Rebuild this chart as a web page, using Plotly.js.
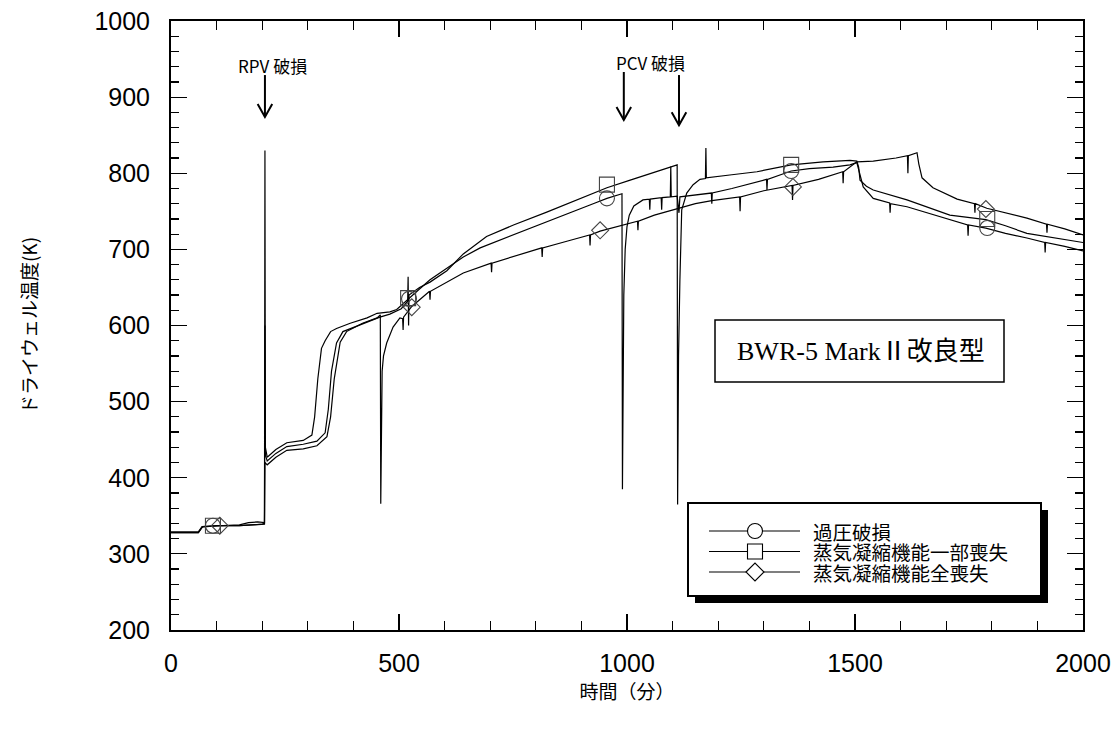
<!DOCTYPE html>
<html>
<head>
<meta charset="utf-8">
<script src="https://cdn.plot.ly/plotly-3.0.1.min.js"></script>
<style>
  html, body { margin: 0; padding: 0; background: #fff; }
  #chart { width: 1117px; height: 736px; }
</style>
</head>
<body>
<div id="chart"></div>
<script>
// Drywell temperature (K) against time (min), three accident sequences.

// 過圧破損
const timeOver = [0, 60, 68, 100, 150, 180, 200, 205, 206, 207, 211, 230, 254, 290, 309, 315, 322, 330, 338, 350, 363, 393, 430, 452, 480, 495, 520, 545, 568, 605, 641, 678, 720, 751, 790, 824, 860, 897, 930, 956, 989, 990, 991, 993, 996, 1000, 1005, 1015, 1035, 1049, 1050, 1051, 1075, 1076, 1077, 1095, 1096, 1097, 1110, 1114, 1116, 1150, 1182, 1185, 1186, 1187, 1230, 1285, 1306, 1307, 1308, 1360, 1400, 1452, 1489, 1504, 1510, 1518, 1540, 1576, 1577, 1578, 1614, 1660, 1708, 1747, 1748, 1749, 1787, 1830, 1877, 1916, 1917, 1918, 1960, 2000];
const tempOver = [328, 328, 335, 337, 337, 338, 339, 340, 830, 440, 427, 437, 446, 449, 456, 480, 530, 570, 580, 592, 596, 603, 610, 616, 618, 621, 635, 648, 660, 675, 690, 702, 712, 719, 728, 736, 745, 754, 761, 767, 773, 385, 560, 640, 700, 730, 745, 757, 765, 766, 752, 766, 768, 752, 768, 769, 809, 769, 770, 748, 769, 771, 773, 774, 760, 774, 780, 788, 792, 778, 792, 803, 806, 808, 811, 814, 800, 782, 767, 761, 748, 760, 756, 748, 739, 732, 718, 732, 728, 721, 715, 709, 696, 709, 704, 698];

// 蒸気凝縮機能一部喪失
const timePartial = [0, 60, 68, 100, 150, 170, 190, 205, 206, 207, 211, 230, 254, 290, 320, 338, 345, 352, 363, 377, 415, 458, 480, 505, 519, 520, 521, 522, 545, 568, 605, 641, 692, 751, 824, 897, 941, 956, 1007, 1050, 1099, 1110, 1111, 1113, 1116, 1120, 1131, 1145, 1160, 1172, 1173, 1174, 1230, 1285, 1360, 1430, 1489, 1504, 1508, 1511, 1525, 1540, 1614, 1660, 1708, 1787, 1830, 1877, 1940, 2000];
const tempPartial = [329, 329, 336, 337, 338, 341, 342, 341, 600, 430, 422, 432, 441, 444, 448, 459, 490, 540, 577, 592, 601, 611, 615, 622, 632, 664, 600, 640, 650, 657, 672, 694, 717, 732, 749, 767, 777, 781, 791, 799, 808, 811, 365, 560, 660, 752, 774, 785, 792, 793, 833, 794, 798, 802, 811, 815, 817, 816, 808, 791, 783, 778, 765, 755, 745, 739, 731, 721, 715, 709];

// 蒸気凝縮機能全喪失
const timeTotal = [0, 60, 70, 107, 150, 190, 205, 206, 211, 230, 254, 290, 320, 342, 350, 358, 371, 385, 420, 452, 459, 460, 462, 463, 466, 473, 487, 502, 508, 509, 510, 528, 567, 568, 569, 641, 702, 703, 704, 760, 813, 814, 815, 870, 918, 919, 920, 941, 1007, 1023, 1024, 1025, 1060, 1116, 1150, 1186, 1247, 1248, 1249, 1300, 1351, 1362, 1363, 1364, 1420, 1452, 1473, 1474, 1475, 1504, 1540, 1590, 1615, 1616, 1617, 1636, 1640, 1647, 1671, 1724, 1762, 1763, 1764, 1789, 1830, 1877, 1920, 1921, 1922, 1960, 2000];
const tempTotal = [328, 328, 336, 337, 337, 339, 339, 420, 417, 427, 436, 438, 442, 454, 480, 530, 578, 592, 603, 610, 614, 366, 460, 540, 560, 577, 598, 610, 609, 594, 611, 625, 645, 634, 645, 669, 682, 670, 682, 692, 702, 690, 702, 711, 719, 705, 719, 724, 735, 737, 725, 737, 745, 754, 760, 764, 769, 750, 769, 777, 783, 784, 765, 784, 792, 798, 802, 787, 802, 815, 816, 820, 823, 800, 823, 827, 812, 794, 781, 766, 760, 748, 760, 754, 748, 741, 733, 722, 733, 727, 719];

// Symbol positions along each curve
const markTimeOver = [92, 522, 956, 1360, 1790];
const markTempOver = [337, 635, 767, 803, 728];
const markTimePartial = [92, 520, 956, 1360, 1790];
const markTempPartial = [337, 636, 785, 811, 740];
const markTimeTotal = [107, 528, 941, 1364, 1787];
const markTempTotal = [337, 624, 725, 782, 753];

const seriesNames = ['過圧破損', '蒸気凝縮機能一部喪失', '蒸気凝縮機能全喪失'];
const xTitle = '時間（分）';
const yTitle = 'ドライウェル温度(K)';
const plantLabel = 'BWR-5 MarkⅡ改良型';
const rpvLabel = 'RPV 破損';
const pcvLabel = 'PCV 破損';
const rpvTime = 206;
const pcvTimes = [993, 1114];

const lineStyle = { color: '#000', width: 1.2 };
const markerLine = { color: '#444', width: 1.1 };

const traces = [
  { x: timeOver, y: tempOver, mode: 'lines', line: lineStyle, showlegend: false, hoverinfo: 'skip' },
  { x: timePartial, y: tempPartial, mode: 'lines', line: lineStyle, showlegend: false, hoverinfo: 'skip' },
  { x: timeTotal, y: tempTotal, mode: 'lines', line: lineStyle, showlegend: false, hoverinfo: 'skip' },
  { x: markTimeOver, y: markTempOver, mode: 'markers', showlegend: false,
    marker: { symbol: 'circle-open', size: 15, line: markerLine, color: '#444' } },
  { x: markTimePartial, y: markTempPartial, mode: 'markers', showlegend: false,
    marker: { symbol: 'square-open', size: 15, line: markerLine, color: '#444' } },
  { x: markTimeTotal, y: markTempTotal, mode: 'markers', showlegend: false,
    marker: { symbol: 'diamond-open', size: 13, line: markerLine, color: '#444' } }
];

// plot area in pixels
const L = 171, R = 1083, T = 21, B = 630;
const W = 1117, H = 736;
const px = v => (v - L) / (R - L);
const py = v => (B - v) / (B - T);

const shapes = [];
const annotations = [];

// event arrows (data coordinates)
function arrow(t, yTop, yTip) {
  shapes.push({ type: 'line', xref: 'x', yref: 'y', x0: t, x1: t, y0: yTop, y1: yTip,
    line: { color: '#000', width: 2 } });
  shapes.push({ type: 'path', xref: 'x', yref: 'y',
    path: `M ${t - 16},${yTip + 17} L ${t},${yTip} L ${t + 16},${yTip + 17}`,
    line: { color: '#000', width: 2 } });
}
arrow(rpvTime, 929, 874);
arrow(pcvTimes[0], 933, 870);
arrow(pcvTimes[1], 929, 863);

const labelFont = { family: '"Liberation Sans Narrow", "Noto Sans CJK JP", sans-serif', size: 17, color: '#000' };
annotations.push({ x: 222, y: 941, xref: 'x', yref: 'y', xanchor: 'center', text: rpvLabel, showarrow: false, font: labelFont });
annotations.push({ x: 1052, y: 945, xref: 'x', yref: 'y', xanchor: 'center', text: pcvLabel, showarrow: false, font: labelFont });

// plant type box
shapes.push({ type: 'rect', xref: 'paper', yref: 'paper', x0: px(715), x1: px(1004), y0: py(382), y1: py(320),
  line: { color: '#000', width: 1.5 }, fillcolor: '#fff', layer: 'above' });
annotations.push({ x: px(861), y: py(351), xref: 'paper', yref: 'paper', xanchor: 'center', yanchor: 'middle',
  text: plantLabel, showarrow: false,
  font: { family: '"Liberation Serif", "Noto Sans CJK JP", serif', size: 26, color: '#000' } });

// key box with drop shadow
shapes.push({ type: 'rect', xref: 'paper', yref: 'paper', x0: px(695), x1: px(1048), y0: py(603), y1: py(510),
  line: { width: 0 }, fillcolor: '#000', layer: 'above' });
shapes.push({ type: 'rect', xref: 'paper', yref: 'paper', x0: px(688), x1: px(1041), y0: py(596), y1: py(503),
  line: { color: '#000', width: 2 }, fillcolor: '#fff', layer: 'above' });
const rows = [531, 551.5, 572];
const sym = 755, half = 7.5;
rows.forEach((r, i) => {
  shapes.push({ type: 'line', xref: 'paper', yref: 'paper', x0: px(709), x1: px(800), y0: py(r), y1: py(r),
    line: { color: '#000', width: 1.2 }, layer: 'above' });
  const common = { xref: 'paper', yref: 'paper', line: { color: '#000', width: 1.1 }, fillcolor: '#fff', layer: 'above' };
  if (i === 0) {
    shapes.push(Object.assign({ type: 'circle', x0: px(sym - half), x1: px(sym + half), y0: py(r + half), y1: py(r - half) }, common));
  } else if (i === 1) {
    shapes.push(Object.assign({ type: 'rect', x0: px(sym - half), x1: px(sym + half), y0: py(r + half), y1: py(r - half) }, common));
  } else {
    shapes.push(Object.assign({ type: 'path',
      path: `M ${px(sym - 9)},${py(r)} L ${px(sym)},${py(r - 9)} L ${px(sym + 9)},${py(r)} L ${px(sym)},${py(r + 9)} Z` }, common));
  }
  annotations.push({ x: px(812), y: py(r), xref: 'paper', yref: 'paper', xanchor: 'left', yanchor: 'middle',
    text: seriesNames[i], showarrow: false, borderpad: 0,
    font: { family: '"Noto Sans CJK JP", sans-serif', size: 19.5, color: '#000' } });
});

const tickFont = { family: '"Liberation Sans Narrow", "Liberation Sans", sans-serif', size: 25, color: '#000' };
const titleFont = { family: '"Noto Sans CJK JP", sans-serif', size: 19, color: '#000' };

const layout = {
  width: W, height: H,
  margin: { l: L, r: W - R, t: T, b: H - B },
  paper_bgcolor: '#fff', plot_bgcolor: '#fff',
  showlegend: false,
  xaxis: {
    range: [0, 2000], dtick: 500, tick0: 0,
    ticks: 'inside', ticklen: 16, tickwidth: 1.2, tickcolor: '#000',
    minor: { dtick: 100, ticks: 'inside', ticklen: 9, tickwidth: 1.2, tickcolor: '#000' },
    showline: true, linecolor: '#000', linewidth: 2, mirror: 'allticks',
    showgrid: false, zeroline: false,
    tickfont: tickFont, ticklabelstandoff: 10,
    title: { text: xTitle, font: titleFont, standoff: 6 }
  },
  yaxis: {
    range: [200, 1000], dtick: 100, tick0: 200,
    ticks: 'inside', ticklen: 16, tickwidth: 1.2, tickcolor: '#000',
    minor: { dtick: 20, ticks: 'inside', ticklen: 8, tickwidth: 1.2, tickcolor: '#000' },
    showline: true, linecolor: '#000', linewidth: 2, mirror: 'allticks',
    showgrid: false, zeroline: false,
    tickfont: tickFont, ticklabelstandoff: 14,
    title: { text: yTitle, font: titleFont, standoff: 52 }
  },
  shapes: shapes,
  annotations: annotations
};

Plotly.newPlot('chart', traces, layout, { staticPlot: true, displayModeBar: false });
</script>
</body>
</html>
